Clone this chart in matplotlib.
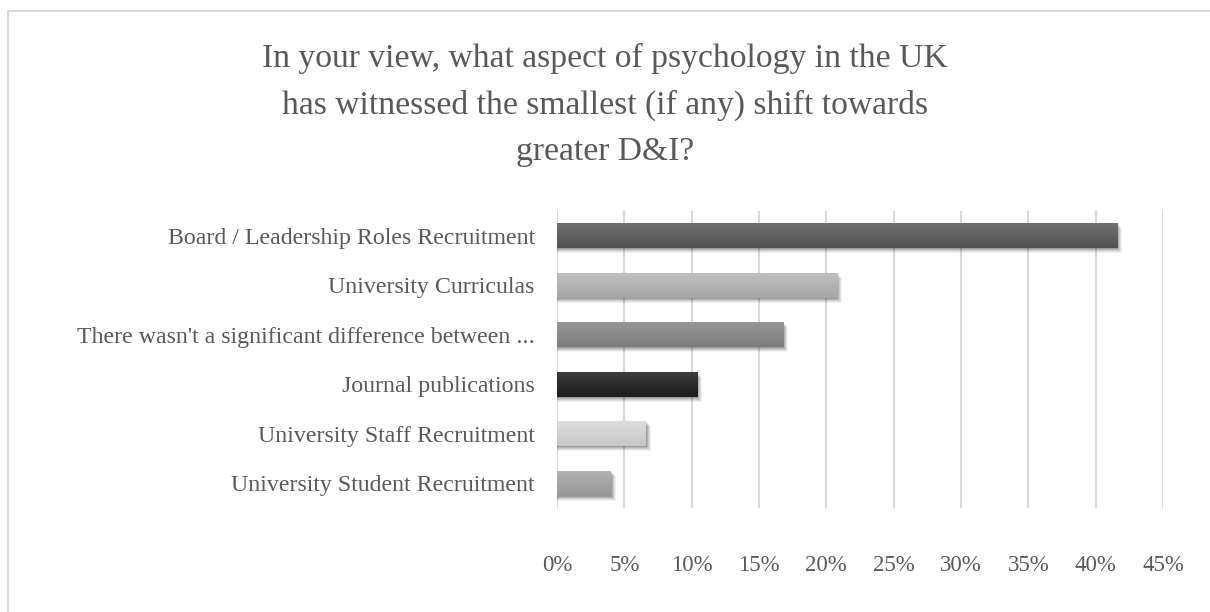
import numpy as np
import matplotlib.pyplot as plt
from matplotlib.lines import Line2D
from matplotlib.colors import LinearSegmentedColormap

plt.rcParams['font.family'] = ['Liberation Serif', 'DejaVu Serif']

title = ("In your view, what aspect of psychology in the UK\n"
         "has witnessed the smallest (if any) shift towards\n"
         "greater D&I?")

categories = [
    "Board / Leadership Roles Recruitment",
    "University Curriculas",
    "There wasn't a significant difference between ...",
    "Journal publications",
    "University Staff Recruitment",
    "University Student Recruitment",
]
# share of respondents, in percent
values = [41.6, 20.8, 16.8, 10.4, 6.6, 4.0]

# (top, bottom) shades of the vertical gradient on each bar
bar_shades = [
    ("#707070", "#525252"),
    ("#c0c0c0", "#a6a6a6"),
    ("#979797", "#7c7c7c"),
    ("#3c3c3c", "#1c1c1c"),
    ("#dedede", "#c6c6c6"),
    ("#b2b2b2", "#979797"),
]

xticks = np.arange(0, 0.451, 0.05)
text_col = "#595959"

fig = plt.figure(figsize=(12.1, 6.12), dpi=100)
ax = fig.add_axes([557 / 1210, 1 - 508 / 612, (1163 - 557) / 1210, (508 - 211) / 612])

# outer chart border (top and left edges are inside the image)
fig.add_artist(Line2D([8 / 1210, 8 / 1210], [0, 1 - 10.5 / 612],
                      transform=fig.transFigure, color="#d9d9d9", lw=1.5))
fig.add_artist(Line2D([8 / 1210, 1], [1 - 10.5 / 612, 1 - 10.5 / 612],
                      transform=fig.transFigure, color="#d9d9d9", lw=1.5))

fig.text(0.5, 1 - 43 / 612, title, ha="center", va="top", fontsize=24.2,
         color=text_col, linespacing=1.66)

n = len(categories)
ypos = np.arange(n)
h = 0.5
px_x = 0.45 / (1163 - 557)
px_y = 6 / (508 - 211)

for y, v, (c_top, c_bot) in zip(ypos, values, bar_shades):
    w = v / 100
    # soft drop shadow, offset down and right
    for k, a in [(5, 0.05), (4, 0.07), (3, 0.09), (2, 0.11), (1, 0.12)]:
        ax.add_patch(plt.Rectangle((0, y - h / 2 + k * px_y), w + k * px_x, h,
                                   color="black", alpha=a, lw=0, zorder=2))
    cmap = LinearSegmentedColormap.from_list("g", [c_top, c_bot])
    grad = np.linspace(0, 1, 64).reshape(-1, 1)
    ax.imshow(grad, cmap=cmap, aspect="auto", interpolation="bilinear",
              extent=(0, w, y + h / 2, y - h / 2), zorder=3)

ax.set_xlim(0, 0.45)
ax.set_ylim(n - 0.5, -0.5)
ax.set_xticks(xticks)
ax.set_xticklabels([f"{int(round(t * 100))}%" for t in xticks])
ax.set_yticks(ypos)
ax.set_yticklabels(categories)
ax.tick_params(axis="x", length=0, pad=34, labelsize=16.5, colors=text_col)
ax.tick_params(axis="y", length=0, pad=16, labelsize=17.2, colors=text_col)
ax.grid(axis="x", color="#d9d9d9", lw=1.5, zorder=0)
ax.set_axisbelow(True)
for s in ax.spines.values():
    s.set_visible(False)
ax.axvline(0, color="#d9d9d9", lw=1.5, zorder=1)

fig.savefig("out.png", dpi=100)
